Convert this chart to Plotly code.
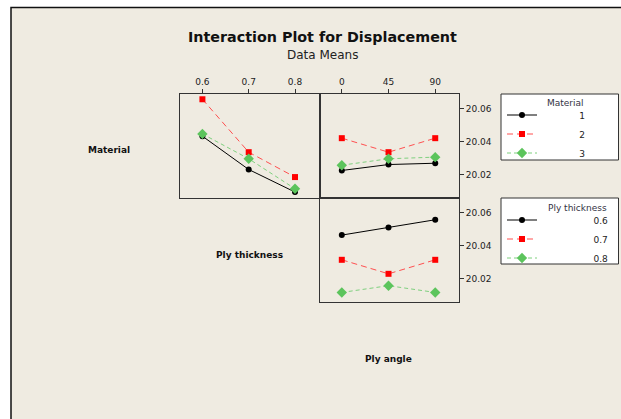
import plotly.graph_objects as go

W, H = 621, 419

thickness = [0.6, 0.7, 0.8]
angle = [0, 45, 90]
materials = ["1", "2", "3"]
thick_labels = ["0.6", "0.7", "0.8"]

# Material x Ply thickness
mat_by_thick = {
    "1": [20.0432, 20.0230, 20.0093],
    "2": [20.0656, 20.0335, 20.0184],
    "3": [20.0446, 20.0295, 20.0113],
}
# Material x Ply angle
mat_by_angle = {
    "1": [20.0224, 20.0260, 20.0268],
    "2": [20.0420, 20.0335, 20.0420],
    "3": [20.0256, 20.0295, 20.0305],
}
# Ply thickness x Ply angle
thick_by_angle = {
    "0.6": [20.0463, 20.0509, 20.0556],
    "0.7": [20.0313, 20.0228, 20.0313],
    "0.8": [20.0115, 20.0156, 20.0115],
}

y_ticks = [20.02, 20.04, 20.06]
y_range = [20.0057, 20.0688]

styles = [
    dict(color="#000000", dash="solid", symbol="circle", size=6, lcolor="#000000"),
    dict(color="#FF0000", dash="6px,4px", symbol="square", size=6, lcolor="#FF5050"),
    dict(color="#5CC45C", dash="4px,3px", symbol="diamond", size=8, lcolor="#7FD07F"),
]

NB = "\u00a0"  # non-breaking space for legend alignment

def px(x):
    return x / W

def py(y):
    return 1 - y / H

fig = go.Figure()

FONT = "DejaVu Sans"

for i, m in enumerate(materials):
    s = styles[i]
    fig.add_trace(go.Scatter(
        x=thickness, y=mat_by_thick[m], xaxis="x", yaxis="y",
        mode="lines+markers", name=NB * 13 + m, legend="legend", showlegend=True,
        line=dict(color=s["lcolor"], dash=s["dash"], width=1),
        marker=dict(color=s["color"], symbol=s["symbol"], size=s["size"]),
    ))
    fig.add_trace(go.Scatter(
        x=angle, y=mat_by_angle[m], xaxis="x2", yaxis="y2",
        mode="lines+markers", name=m, showlegend=False,
        line=dict(color=s["lcolor"], dash=s["dash"], width=1),
        marker=dict(color=s["color"], symbol=s["symbol"], size=s["size"]),
    ))

for i, t in enumerate(thick_labels):
    s = styles[i]
    fig.add_trace(go.Scatter(
        x=angle, y=thick_by_angle[t], xaxis="x3", yaxis="y3",
        mode="lines+markers", name=NB * 18 + t, legend="legend2", showlegend=True,
        line=dict(color=s["lcolor"], dash=s["dash"], width=1),
        marker=dict(color=s["color"], symbol=s["symbol"], size=s["size"]),
    ))

axcommon = dict(showline=True, linecolor="#333333", linewidth=1, mirror=True,
                showgrid=False, zeroline=False,
                tickfont=dict(family=FONT, size=9, color="#222222"),
                ticklen=4, tickcolor="#333333")

top_dom = [py(198), py(94)]
bot_dom = [py(302), py(198)]

fig.update_layout(
    width=W, height=H, autosize=False,
    margin=dict(l=0, r=0, t=0, b=0, autoexpand=False),
    paper_bgcolor="white",
    plot_bgcolor="white",
    xaxis=dict(domain=[px(180), px(320)], range=[0.5516, 0.854], side="top",
               tickvals=thickness, ticktext=thick_labels, anchor="y", ticks="outside",
               **axcommon),
    yaxis=dict(domain=top_dom, range=y_range, anchor="x", showticklabels=False,
               ticks="", **axcommon),
    xaxis2=dict(domain=[px(320), px(459)], range=[-21.0, 112.9], side="top",
                tickvals=angle, ticktext=[str(a) for a in angle], anchor="y2",
                ticks="outside", **axcommon),
    yaxis2=dict(domain=top_dom, range=y_range, anchor="x2", side="right",
                tickvals=y_ticks, ticktext=["%.2f" % v for v in y_ticks],
                ticks="outside", **axcommon),
    xaxis3=dict(domain=[px(320), px(459)], range=[-21.0, 112.9], anchor="y3",
                showticklabels=False, ticks="", **axcommon),
    yaxis3=dict(domain=bot_dom, range=y_range, anchor="x3", side="right",
                tickvals=y_ticks, ticktext=["%.2f" % v for v in y_ticks],
                ticks="outside", **axcommon),
    legend=dict(x=px(502), y=py(100.5), xanchor="left", yanchor="top",
                bgcolor="rgba(0,0,0,0)", borderwidth=0,
                font=dict(family=FONT, size=9, color="#222222"),
                itemwidth=30, tracegroupgap=0),
    legend2=dict(x=px(502), y=py(205.5), xanchor="left", yanchor="top",
                 bgcolor="rgba(0,0,0,0)", borderwidth=0,
                 font=dict(family=FONT, size=9, color="#222222"),
                 itemwidth=30, tracegroupgap=0),
    shapes=[
        dict(type="rect", xref="paper", yref="paper", layer="below",
             x0=px(11), x1=1.05, y0=-0.05, y1=py(7.5),
             fillcolor="#EFEBE1", line=dict(color="#111111", width=1.5)),
        dict(type="rect", xref="paper", yref="paper", layer="below",
             x0=px(501), x1=px(618.5), y0=py(160), y1=py(94),
             fillcolor="white", line=dict(color="#333333", width=1)),
        dict(type="rect", xref="paper", yref="paper", layer="below",
             x0=px(501), x1=px(618.5), y0=py(264), y1=py(198),
             fillcolor="white", line=dict(color="#333333", width=1)),
    ],
    annotations=[
        dict(text="<b>Interaction Plot for Displacement</b>", xref="paper", yref="paper",
             x=px(322), y=py(37), showarrow=False, xanchor="center", yanchor="middle",
             font=dict(family=FONT, size=14.3, color="#111111")),
        dict(text="Data Means", xref="paper", yref="paper",
             x=px(322), y=py(55), showarrow=False, xanchor="center", yanchor="middle",
             font=dict(family=FONT, size=12, color="#222222")),
        dict(text="<b>Material</b>", xref="paper", yref="paper",
             x=px(109), y=py(150), showarrow=False, xanchor="center", yanchor="middle",
             font=dict(family=FONT, size=9, color="#111111")),
        dict(text="<b>Ply thickness</b>", xref="paper", yref="paper",
             x=px(249), y=py(255), showarrow=False, xanchor="center", yanchor="middle",
             font=dict(family=FONT, size=9, color="#111111")),
        dict(text="<b>Ply angle</b>", xref="paper", yref="paper",
             x=px(388.5), y=py(359), showarrow=False, xanchor="center", yanchor="middle",
             font=dict(family=FONT, size=9, color="#111111")),
        # legend titles
        dict(text="Material", xref="paper", yref="paper",
             x=px(565), y=py(103), showarrow=False, xanchor="center", yanchor="middle",
             font=dict(family=FONT, size=9, color="#333344")),
        dict(text="Ply thickness", xref="paper", yref="paper",
             x=px(577), y=py(207.5), showarrow=False, xanchor="center", yanchor="middle",
             font=dict(family=FONT, size=9, color="#333344")),
    ],
)

fig.write_html("out.html", config={"displayModeBar": False},
               post_script="document.body.style.margin='0';document.body.style.overflow='hidden';")
